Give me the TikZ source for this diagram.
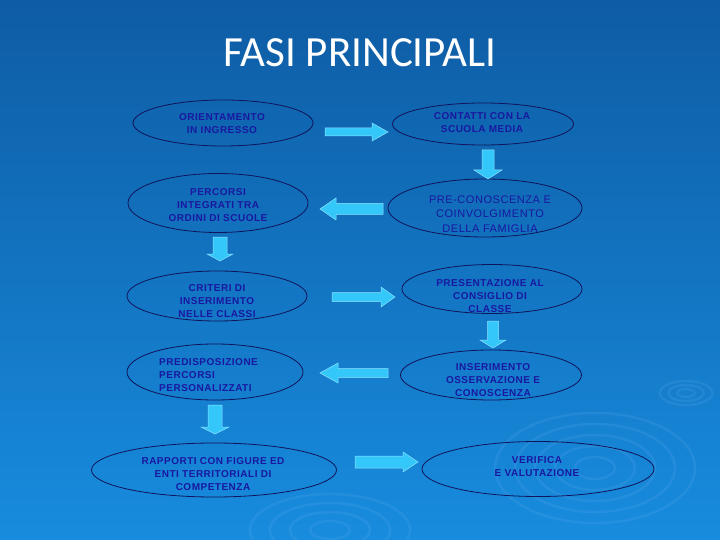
\documentclass[tikz,border=0pt]{standalone}
\usepackage{fontspec}
\setmainfont{Liberation Sans}
\newfontfamily\titlefont{Carlito}
\newfontfamily\lab[LetterSpace=5.0]{Liberation Sans}
\usetikzlibrary{shapes.geometric}
\definecolor{bgtop}{RGB}{14,92,164}
\definecolor{bgbot}{RGB}{24,140,222}
\definecolor{ellline}{RGB}{16,20,90}
\definecolor{txtblue}{RGB}{24,24,160}
\definecolor{arrfill}{RGB}{52,200,250}
\definecolor{arrline}{RGB}{140,225,255}
\definecolor{ripple}{RGB}{90,170,235}
\tikzset{
  ell/.style={ellipse, draw=ellline, line width=0.8pt, inner sep=0pt},
  txt/.style={text=txtblue, font=\lab\bfseries\fontsize{10}{13}\selectfont, align=center, inner sep=0pt},
  txtthin/.style={text=txtblue, font=\lab\fontsize{11}{14.5}\selectfont, align=center, inner sep=0pt},
  blk/.style={fill=arrfill, draw=arrline, line width=0.5pt},
  rip/.style={draw=ripple, opacity=0.2, line width=2.5pt}
}
\newcommand{\harrow}[6]{% base x, head x, tip x, y, half shaft, half head
  \draw[blk] (#1,#4-#5) -- (#2,#4-#5) -- (#2,#4-#6) -- (#3,#4) -- (#2,#4+#6) -- (#2,#4+#5) -- (#1,#4+#5) -- cycle;}
\newcommand{\varrow}[6]{% base y, head y, tip y, x, half shaft, half head
  \draw[blk] (#4-#5,#1) -- (#4-#5,#2) -- (#4-#6,#2) -- (#4,#3) -- (#4+#6,#2) -- (#4+#5,#2) -- (#4+#5,#1) -- cycle;}
\begin{document}
\begin{tikzpicture}[x=1pt,y=-1pt]
\shade[top color=bgtop, bottom color=bgbot] (0,0) rectangle (720,540);
\useasboundingbox (0,0) rectangle (720,540);
% ripples
\begin{scope}
\foreach \r in {8,16,24} \draw[rip] (686,393) ellipse ({\r*1.1} and {\r*0.5});
\foreach \r in {20,40,60,80,100} \draw[rip] (595,468) ellipse ({\r} and {\r*0.55});
\foreach \r in {20,40,60,80} \draw[rip] (330,530) ellipse ({\r} and {\r*0.45});
\end{scope}
% title
\node[text=white, font=\titlefont\fontsize{43}{50}\selectfont, inner sep=0pt] (title) at (360,53) {FASI PRINCIPALI};
% ellipses
\node[ell, minimum width=180, minimum height=46] (e1) at (223,123) {};
\node[ell, minimum width=181, minimum height=42] (e2) at (483,124) {};
\node[ell, minimum width=180, minimum height=59] (e3) at (218,203) {};
\node[ell, minimum width=194, minimum height=58] (e4) at (485,208) {};
\node[ell, minimum width=180, minimum height=50] (e5) at (217,296) {};
\node[ell, minimum width=180, minimum height=49] (e6) at (492,289) {};
\node[ell, minimum width=176, minimum height=56] (e7) at (215,372) {};
\node[ell, minimum width=181, minimum height=50] (e8) at (491,375) {};
\node[ell, minimum width=245, minimum height=54] (e9) at (214,470) {};
\node[ell, minimum width=232, minimum height=55] (e10) at (538,469) {};
% texts
\node[txt] (t1) at (222,124) {ORIENTAMENTO\\IN INGRESSO};
\node[txt] (t2) at (482,123) {CONTATTI CON LA\\SCUOLA MEDIA};
\node[txt] (t3) at (218,205) {PERCORSI\\INTEGRATI TRA\\ORDINI DI SCUOLE};
\node[txtthin] (t4) at (490,214) {PRE-CONOSCENZA E\\COINVOLGIMENTO\\DELLA FAMIGLIA};
\node[txt] (t5) at (217,301) {CRITERI DI\\INSERIMENTO\\NELLE CLASSI};
\node[txt] (t6) at (490,296) {PRESENTAZIONE AL\\CONSIGLIO DI\\CLASSE};
\node[txt, align=left, anchor=west] (t7) at (159,375) {PREDISPOSIZIONE\\PERCORSI\\PERSONALIZZATI};
\node[txt] (t8) at (493,380) {INSERIMENTO\\OSSERVAZIONE E\\CONOSCENZA};
\node[txt] (t9) at (213,474) {RAPPORTI CON FIGURE ED\\ENTI TERRITORIALI DI\\COMPETENZA};
\node[txt] (t10) at (537,467) {VERIFICA\\E VALUTAZIONE};
% block arrows
\harrow{325}{372}{388}{132}{4}{9}
\varrow{150}{170}{179}{488}{6}{14}
\harrow{383}{336}{320}{209}{5.5}{11}
\varrow{237}{254}{261}{220}{7}{13}
\harrow{332}{381}{395}{297}{4.5}{10}
\varrow{321}{340}{348}{493}{5.5}{13}
\harrow{388}{338}{320}{373}{4.5}{10}
\varrow{405}{427}{434}{215}{7}{14}
\harrow{355}{403}{418}{462}{6}{10}
\end{tikzpicture}
\end{document}
